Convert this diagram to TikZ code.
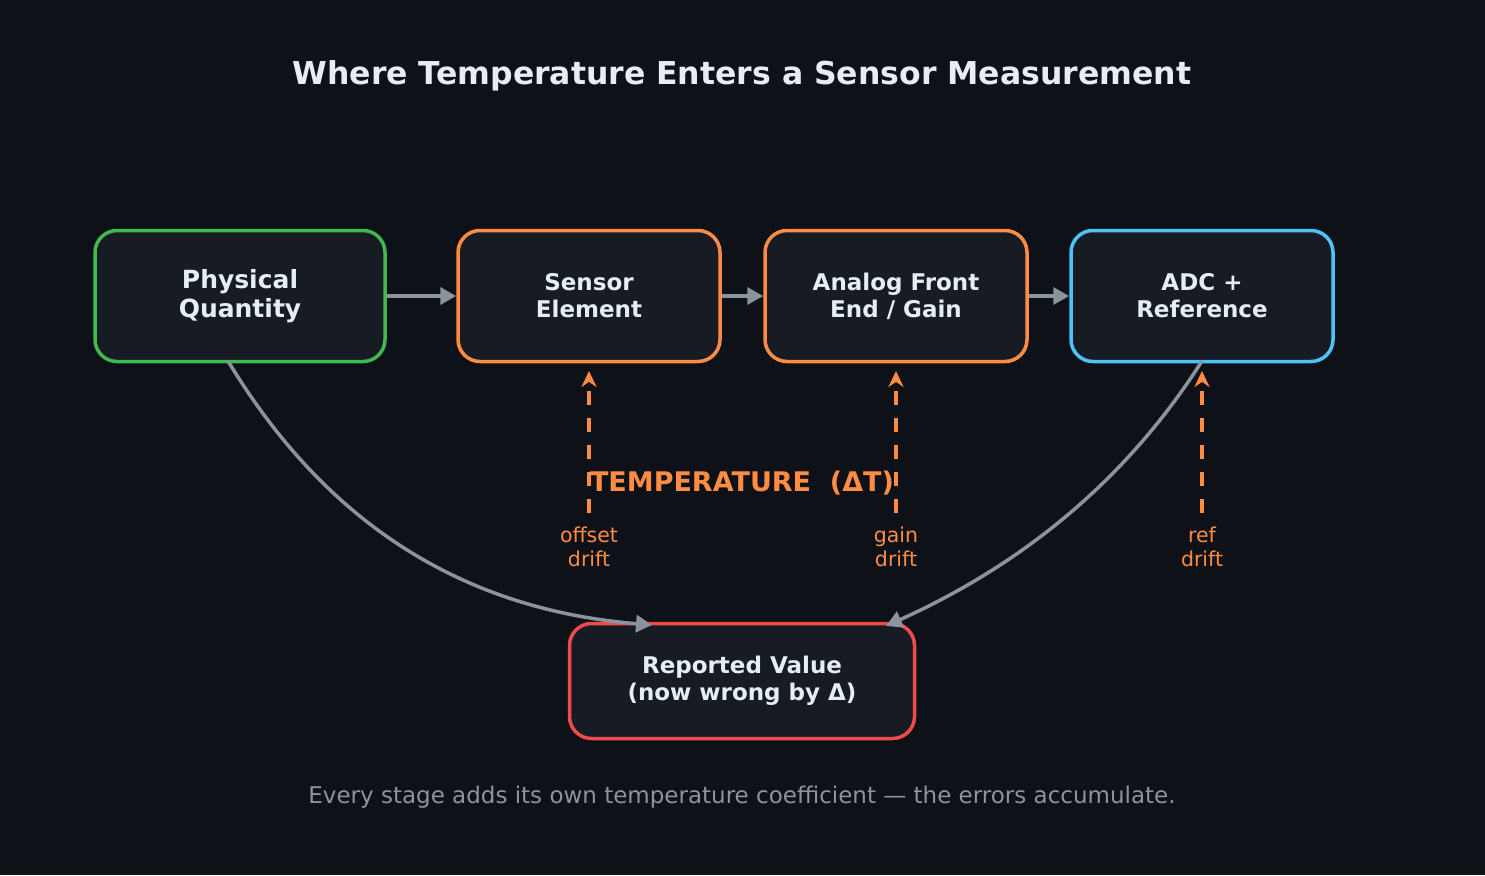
\documentclass[tikz,border=0pt]{standalone}
\usepackage{fontspec}
\setmainfont{DejaVu Sans}
\usetikzlibrary{arrows.meta}
\definecolor{bg}{HTML}{0E1117}
\definecolor{boxf}{HTML}{161B24}
\definecolor{gr}{HTML}{3FB950}
\definecolor{orr}{HTML}{FF8C42}
\definecolor{bl}{HTML}{4FC3F7}
\definecolor{rd}{HTML}{F04A4A}
\definecolor{gy}{HTML}{8B949E}
\definecolor{tx}{HTML}{E6EDF3}
\begin{document}
\begin{tikzpicture}[x=1pt,y=-1pt,
 box/.style={draw,line width=3.5pt,fill=boxf,rounded corners=22pt,text=tx,align=center,font=\bfseries\fontsize{23}{27}\selectfont,inner sep=0pt},
 flow/.style={draw=gy,line width=3.5pt,-{Triangle[length=16pt,width=17pt]}},
 drift/.style={draw=orr,line width=3.5pt,dash pattern=on 14pt off 13pt,-{Stealth[length=16pt,width=15pt]}},
 lab/.style={text=orr,align=center,font=\fontsize{20.5}{24}\selectfont}]
\fill[bg] (0,0) rectangle (1485,875);
\node[text=tx,font=\bfseries\fontsize{31.5}{36}\selectfont] (title) at (742,76) {Where Temperature Enters a Sensor Measurement};
\node[box,draw=gr,minimum width=290pt,minimum height=131pt,font=\bfseries\fontsize{25}{29}\selectfont] (b1) at (240,296) {Physical\\Quantity};
\node[box,draw=orr,minimum width=262pt,minimum height=131pt] (b2) at (589,296) {Sensor\\Element};
\node[box,draw=orr,minimum width=262pt,minimum height=131pt] (b3) at (896,296) {Analog Front\\End / Gain};
\node[box,draw=bl,minimum width=262pt,minimum height=131pt] (b4) at (1202,296) {ADC +\\Reference};
\node[box,draw=rd,minimum width=345pt,minimum height=115pt] (b5) at (742,681) {Reported Value\\(now wrong by Δ)};
\draw[flow] (b1) -- (b2);
\draw[flow] (b2) -- (b3);
\draw[flow] (b3) -- (b4);
\coordinate (e1) at (652,625);
\coordinate (e2) at (886,626);
\draw[flow] (228,361) .. controls (330,530) and (470,610) .. (e1);
\draw[flow] (1202,361) .. controls (1120,490) and (1010,570) .. (e2);
\foreach \x/\n in {589/d1,896/d2,1202/d3}{
 \coordinate (\n) at (\x,513);
 \draw[drift] (\n) -- (\x,371);}
\node[text=orr,font=\bfseries\fontsize{27}{31}\selectfont] (temp) at (742,483) {TEMPERATURE\ \ (ΔT)};
\node[lab] (l1) at (589,547) {offset\\drift};
\node[lab] (l2) at (896,547) {gain\\drift};
\node[lab] (l3) at (1202,547) {ref\\drift};
\node[text=gy,font=\fontsize{23}{27}\selectfont] (foot) at (742,797) {Every stage adds its own temperature coefficient — the errors accumulate.};
\end{tikzpicture}
\end{document}
